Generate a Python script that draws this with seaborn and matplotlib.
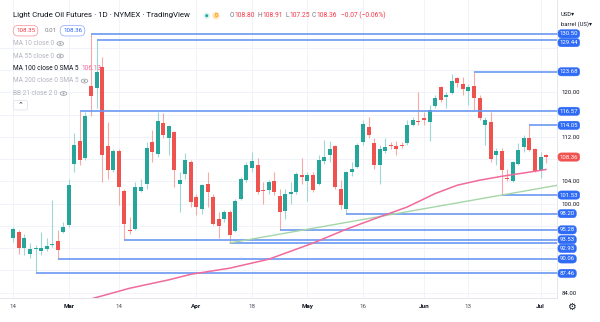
import numpy as np
import pandas as pd
import matplotlib
matplotlib.use("Agg")
import matplotlib.pyplot as plt
import matplotlib.transforms as mtransforms
from matplotlib.patches import Ellipse, Circle, FancyBboxPatch
import seaborn as sns

# Daily OHLC candles, light crude oil futures (NYMEX), mid-Feb to early Jul
opens = [93.9, 94.9, 92.1, 90.9, 91.8, 91.4, 91.8, 92.5, 93.3, 94.9,
         96.1, 107.2, 111.3, 108.1, 121.2, 120.7, 124.6, 110.4, 106.0, 109.4,
         102.3, 95.3, 95.4, 102.3, 103.6, 111.0, 108.9, 114.5, 111.8, 112.9,
         103.5, 105.3, 107.5, 101.2, 99.0, 103.6, 101.2, 97.2, 97.2, 98.4,
         95.1, 100.9, 104.2, 106.4, 107.0, 102.5, 102.4, 104.0, 101.4, 98.7,
         101.7, 102.1, 105.1, 104.0, 105.1, 103.5, 107.6, 108.7, 110.4, 102.7,
         99.0, 105.6, 106.6, 111.0, 113.8, 110.8, 106.9, 109.4, 110.6, 110.4,
         110.5, 110.8, 114.2, 114.9, 115.4, 114.7, 117.5, 120.9, 119.1, 119.8,
         122.5, 121.4, 120.2, 121.1, 119.0, 114.1, 114.7, 108.7, 109.5, 104.6,
         104.0, 107.2, 110.2, 111.8, 109.8, 106.0, 108.80]
highs = [95.8, 95.2, 94.6, 92.9, 92.6, 94.9, 93.8, 100.6, 95.2, 96.7,
         104.5, 112.6, 116.57, 116.5, 130.50, 129.44, 126.4, 114.7, 109.8, 109.8,
         102.7, 97.6, 103.9, 104.4, 111.1, 113.2, 116.4, 116.3, 114.2, 113.0,
         105.7, 109.0, 107.8, 101.8, 103.6, 105.7, 101.8, 98.5, 98.8, 98.8,
         100.9, 104.8, 107.5, 109.3, 108.2, 103.9, 104.2, 105.7, 102.7, 102.7,
         103.9, 105.7, 108.1, 105.7, 105.7, 108.7, 111.4, 111.2, 110.5, 104.2,
         105.9, 107.5, 110.8, 115.0, 115.6, 111.7, 110.5, 111.8, 111.1, 111.2,
         111.1, 115.0, 115.6, 120.1, 116.5, 117.7, 119.5, 121.2, 120.1, 123.2,
         122.8, 122.8, 121.4, 123.68, 119.5, 115.6, 116.4, 109.9, 109.9, 106.3,
         107.6, 110.8, 112.3, 114.05, 110.0, 109.3, 108.91]
lows = [93.1, 90.9, 90.8, 90.2, 87.46, 90.8, 91.4, 92.2, 90.06, 94.8,
        95.8, 105.7, 106.9, 107.8, 115.8, 117.1, 103.9, 104.5, 105.7, 99.7,
        93.53, 94.6, 95.2, 102.0, 102.7, 107.5, 108.4, 111.7, 108.7, 103.0,
        98.5, 104.4, 99.4, 97.9, 98.2, 99.4, 96.1, 93.9, 96.7, 92.93,
        94.9, 100.6, 103.9, 105.7, 101.8, 100.0, 101.8, 101.6, 95.28, 97.3,
        100.0, 101.8, 103.6, 100.4, 102.1, 103.3, 107.2, 107.4, 102.7, 99.1,
        98.20, 105.0, 106.4, 110.5, 111.8, 106.2, 103.5, 109.0, 109.8, 108.8,
        110.0, 110.6, 114.0, 114.1, 114.1, 111.2, 117.2, 118.3, 117.2, 119.6,
        121.0, 119.5, 117.7, 116.6, 115.0, 110.5, 107.5, 106.9, 101.53, 104.0,
        103.9, 106.9, 109.3, 109.4, 105.7, 104.6, 107.25]
closes = [95.4, 92.1, 93.8, 91.8, 92.1, 92.0, 92.3, 92.8, 91.6, 95.8,
          103.4, 110.5, 107.8, 115.8, 119.4, 123.6, 108.7, 106.0, 109.4, 103.0,
          96.3, 95.1, 103.0, 103.0, 110.0, 109.2, 114.9, 112.4, 113.9, 106.0,
          104.3, 107.8, 100.3, 99.3, 103.3, 102.0, 96.3, 96.0, 98.4, 94.3,
          100.5, 104.4, 107.0, 107.6, 102.1, 102.3, 103.8, 102.1, 98.5, 101.7,
          102.1, 105.3, 104.7, 105.1, 102.4, 107.8, 108.3, 109.8, 103.0, 99.7,
          105.7, 106.2, 110.5, 114.3, 112.3, 106.9, 109.8, 110.2, 110.4, 109.8,
          110.4, 114.1, 115.1, 114.6, 115.0, 116.8, 118.9, 118.6, 119.5, 122.1,
          121.6, 120.6, 121.0, 118.9, 115.3, 115.1, 108.0, 109.5, 106.1, 104.4,
          107.5, 109.6, 111.7, 109.6, 105.8, 108.4, 108.36]

# Time axis labels (bar index -> label)
tick_pos = [0, 10, 19, 33, 43, 53, 63, 74, 82, 95]
tick_labels = ["14", "Mar", "14", "Apr", "18", "May", "16", "Jun", "13", "Jul"]

# Horizontal support / resistance levels and the bar they start from
level_prices = [130.50, 129.44, 123.68, 116.57, 114.05, 101.53, 98.20, 95.28, 93.53, 92.93, 90.06, 87.46]
level_starts = [14, 15, 83, 12, 93, 88, 60, 48, 20, 39, 8, 4]

# Rising trend line anchors (ray to the right)
trend_idx = [39, 88]
trend_val = [92.93, 101.53]

# MA 100 (SMA 5 smoothed)
ma_idx = [13, 21, 28, 32, 39, 46, 54, 60, 66, 71, 76, 80, 84, 88, 92, 96]
ma_val = [82.6, 84.8, 86.3, 87.3, 88.4, 90.0, 92.9, 95.4, 97.6, 99.4, 101.8, 103.3, 104.2, 104.9, 105.5, 106.13]

last_price = 108.36
ma_last = 106.13

UP = "#26a69a"
DOWN = "#ef5350"
LEVEL = "#6a98f2"
LABEL_BLUE = "#2f6bf5"
PINK = "#f06a9b"
TEXT = "#131722"

sns.set_theme(style="white")
plt.rcParams["font.family"] = ["Roboto", "DejaVu Sans"]

W, H = 600, 322
fig = plt.figure(figsize=(W / 100, H / 100), dpi=100)
fig.patch.set_facecolor("white")
ax = fig.add_axes([0, 24 / H, 557 / W, 298 / H])
ax.set_facecolor("white")

x_lo, x_hi = -2.4, 97.96
y_lo, y_hi = 83.04, 136.57
ax.set_xlim(x_lo, x_hi)
ax.set_ylim(y_lo, y_hi)
px_per_unit = 298 / (y_hi - y_lo)

# grid
grid_prices = np.arange(84, 129, 4)
ax.set_yticks(grid_prices)
ax.set_xticks(tick_pos)
ax.grid(True, color="#f0f3fa", lw=0.7)
ax.set_axisbelow(True)

# candles
o = np.array(opens); h = np.array(highs); l = np.array(lows); c = np.array(closes)
idx = np.arange(len(o))
up = c >= o
body_col = np.where(up, UP, DOWN)
wick_col = np.where(up, "#9fd8d2", "#f6aaa8")
ax.vlines(idx, l, h, colors=wick_col, lw=0.8, zorder=2)
bottoms = np.minimum(o, c)
heights = np.maximum(np.abs(c - o), 0.18)
ax.bar(idx, heights, bottom=bottoms, width=0.72, color=body_col, lw=0, zorder=3)

# levels
for p, s in zip(level_prices, level_starts):
    ax.plot([s, x_hi], [p, p], color=LEVEL, lw=1.4, alpha=0.85, zorder=4,
            solid_capstyle="butt")

# trend ray
slope = (trend_val[1] - trend_val[0]) / (trend_idx[1] - trend_idx[0])
trend_df = pd.DataFrame({"x": [trend_idx[0], x_hi],
                         "y": [trend_val[0], trend_val[0] + slope * (x_hi - trend_idx[0])]})
sns.lineplot(data=trend_df, x="x", y="y", ax=ax, color="#a5d6a7", lw=1.0, zorder=4)

# moving average
ma_df = pd.DataFrame({"x": ma_idx, "y": ma_val})
sns.lineplot(data=ma_df, x="x", y="y", ax=ax, color=PINK, lw=1.1, zorder=5)
ax.set_xlabel(""); ax.set_ylabel("")

# axes styling
for side in ["top", "left"]:
    ax.spines[side].set_visible(False)
for side in ["right", "bottom"]:
    ax.spines[side].set_color("#e0e3eb")
    ax.spines[side].set_linewidth(0.6)
ax.yaxis.tick_right()

# price-scale labels, nudged apart so they never overlap
labels = [(p, f"{p:.2f}", LABEL_BLUE) for p in level_prices] + [(last_price, f"{last_price:.2f}", "#f0524f")]
labels.sort(key=lambda t: -t[0])
gap = 8.8 / px_per_unit
prev = None
placed = []
for p, txt, col in labels:
    pos = p if prev is None else min(p, prev - gap)
    prev = pos
    placed.append((pos, txt, col))

# scale ticks that would sit under a label box are left blank
tick_text = []
for v in grid_prices:
    hidden = any(abs(v - pos) * px_per_unit < 8.5 for pos, _, _ in placed)
    tick_text.append("" if hidden else f"{v:.2f}")
ax.set_yticklabels(tick_text)
ax.tick_params(axis="y", length=0, pad=3, labelsize=4.3, labelcolor=TEXT)
ax.set_xticklabels(tick_labels)
ax.tick_params(axis="x", length=0, pad=4.5, labelsize=4.5, labelcolor="#50535e")
for lab in ax.get_xticklabels():
    if not lab.get_text().isdigit():
        lab.set_color(TEXT)
        lab.set_fontweight("bold")

blend = mtransforms.blended_transform_factory(ax.transAxes, ax.transData)
for pos, txt, col in placed:
    ax.text(1 + 2.6 / 557, pos, txt, transform=blend, color="white", fontsize=4.3,
            va="center", ha="left", zorder=20, clip_on=False,
            bbox=dict(boxstyle="round,pad=0.28,rounding_size=0.6", fc=col, ec=col, lw=0.3))

# overlay texts in pixel coordinates
def fx(x):
    return x / W

def fy(y):
    return 1 - y / H

renderer = fig.canvas.get_renderer()
ID = mtransforms.IdentityTransform()

def put(x, y, s, color, size, **kw):
    t = fig.text(fx(x), fy(y), s, color=color, fontsize=size, va="center", ha="left", **kw)
    bb = t.get_window_extent(renderer)
    return x + bb.width

def eye(x, y):
    fig.add_artist(Ellipse((x, H - y), 6.5, 3.8, transform=ID, fill=False, ec="#a0a3ab", lw=0.6))
    fig.add_artist(Circle((x, H - y), 1.0, transform=ID, fc="#a0a3ab", ec="none"))

put(13, 15.5, "Light Crude Oil Futures · 1D · NYMEX · TradingView", TEXT, 5.7)

# interval badge
fig.add_artist(Circle((206.7, H - 15.7), 3.4, transform=ID, fc="#e0f2f1", ec="none"))
fig.add_artist(Circle((206.7, H - 15.7), 1.5, transform=ID, fc=UP, ec="none"))
fig.add_artist(Circle((216, H - 15.7), 3.6, transform=ID, fc="#ffe0b2", ec="none"))
fig.text(fx(216), fy(15.7), "D", color="#ff9800", fontsize=3.8, ha="center", va="center", fontweight="bold")

x = 229.5
for letter, val in [("O", "108.80"), ("H", "108.91"), ("L", "107.25"), ("C", "108.36")]:
    x = put(x, 15.5, letter, "#787b86", 4.75)
    x = put(x + 0.3, 15.5, val, "#f23645", 4.75) + 2.5
put(x + 1, 15.5, "−0.07 (−0.06%)", "#f23645", 4.75)

# bid / spread / ask
fig.text(fx(16), fy(30.7), "108.35", color="#f23645", fontsize=4.4, va="center", ha="left",
         bbox=dict(boxstyle="round,pad=0.45,rounding_size=0.8", fc="white", ec="#f7a1a6", lw=0.6))
fig.text(fx(45), fy(30.7), "0.01", color="#787b86", fontsize=4.4, va="center", ha="left")
fig.text(fx(63), fy(30.7), "108.36", color="#2962ff", fontsize=4.4, va="center", ha="left",
         bbox=dict(boxstyle="round,pad=0.45,rounding_size=0.8", fc="white", ec="#9db5fb", lw=0.6))

# indicator legend
LG = 4.7
e = put(13, 43.5, "MA 10 close 0", "#b2b5be", LG); eye(e + 6, 43.5)
e = put(13, 56.0, "MA 55 close 0", "#b2b5be", LG); eye(e + 6, 56.0)
e = put(13, 68.7, "MA 100 close 0 SMA 5", TEXT, LG)
put(e + 3, 68.7, f"{ma_last:.2f}", PINK, LG)
e = put(13, 81.0, "MA 200 close 0 SMA 5", "#b2b5be", LG); eye(e + 6, 81.0)
e = put(13, 93.5, "BB 21 close 2 0", "#b2b5be", LG); eye(e + 6, 93.5)
fig.add_artist(FancyBboxPatch((13.5, H - 110), 14, 9.5, boxstyle="round,pad=0,rounding_size=1.5",
                              transform=ID, fc="white", ec="#e0e3eb", lw=0.6))
fig.text(fx(20.5), fy(104.5), "⌃", color=TEXT, fontsize=5, ha="center", va="center",
         family=["DejaVu Sans"])

# price scale header and settings
fig.text(fx(561), fy(14), "USD▾", color=TEXT, fontsize=4.2, va="center", ha="left")
fig.text(fx(561), fy(24), "barrel (US)▾", color=TEXT, fontsize=4.2, va="center", ha="left")
fig.text(fx(571), fy(307), "⚙", color=TEXT, fontsize=7, va="center", ha="center",
         family=["DejaVu Sans"])

fig.savefig("out.png", dpi=100, facecolor="white")
